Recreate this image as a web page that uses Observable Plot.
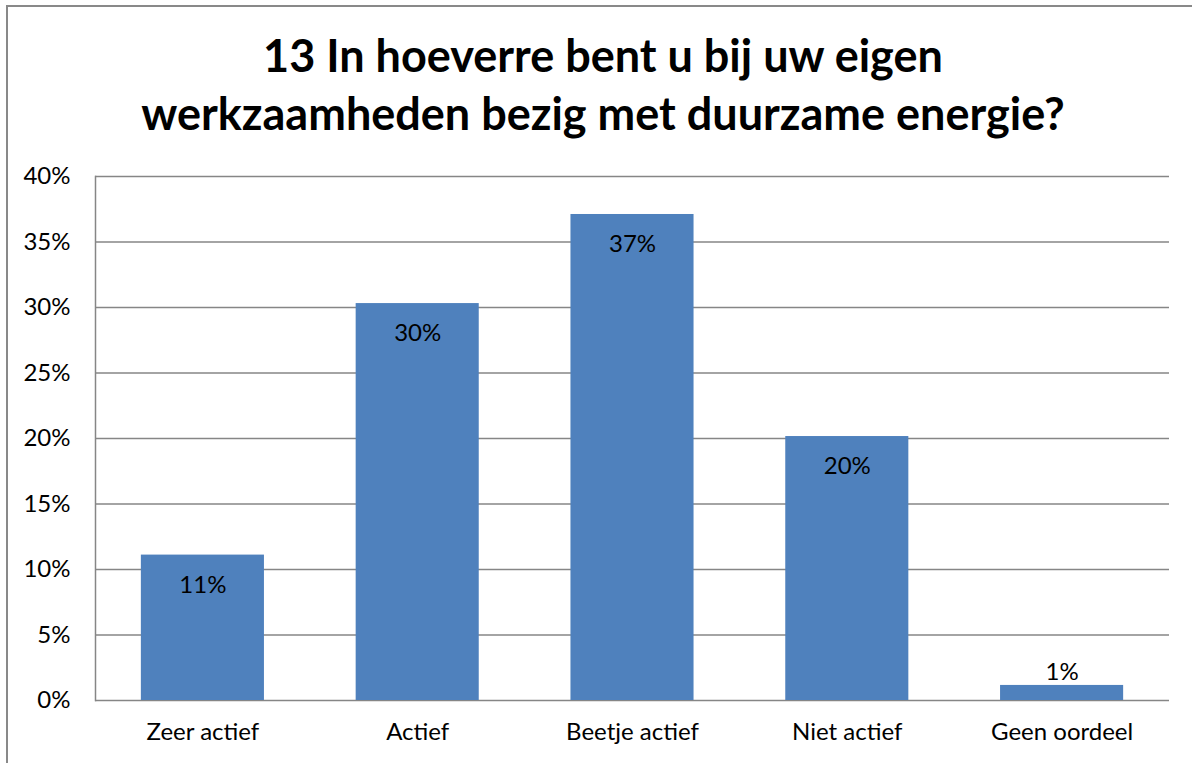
<!DOCTYPE html>
<html>
<head>
<meta charset="utf-8">
<script src="https://cdn.jsdelivr.net/npm/d3@7"></script>
<script src="https://cdn.jsdelivr.net/npm/@observablehq/plot@0.6"></script>
<style>
  html, body { margin: 0; padding: 0; width: 1192px; height: 763px; overflow: hidden; background: #fff; }
  #frame { position: absolute; left: 6px; top: 5px; width: 1220px; height: 800px; border: 2px solid #898989; box-sizing: border-box; }
  #title { position: absolute; left: 0; top: 26px; width: 1206px; text-align: center; font-family: Lato, "Open Sans", sans-serif; font-weight: bold; font-size: 45px; line-height: 58px; color: #000; }
  #chart { position: absolute; left: 0; top: 150px; }
</style>
</head>
<body>
<div id="frame"></div>
<div id="title">13 In hoeverre bent u bij uw eigen<br>werkzaamheden bezig met duurzame energie?</div>
<div id="chart"></div>
<script>
const categories = ["Zeer actief", "Actief", "Beetje actief", "Niet actief", "Geen oordeel"];
const values = [11.1, 30.3, 37.1, 20.15, 1.15];
const labels = ["11%", "30%", "37%", "20%", "1%"];
const yTicks = [0, 5, 10, 15, 20, 25, 30, 35, 40];

const data = categories.map((c, i) => ({cat: c, v: values[i], label: labels[i]}));

const chart = Plot.plot({
  width: 1192,
  height: 613,
  marginLeft: 95,
  marginRight: 23,
  marginTop: 26,
  marginBottom: 63,
  style: {fontFamily: "Lato, 'Open Sans', sans-serif", fontSize: "24px", color: "#000", background: "transparent"},
  x: {domain: categories, label: null, padding: 0.427, paddingOuter: 0.2135, round: false, tickSize: 0, tickPadding: 22},
  y: {domain: [0, 40], ticks: yTicks, tickFormat: d => d + "%", label: null, tickSize: 0, tickPadding: 25},
  marks: [
    Plot.gridY(yTicks, {stroke: "#868686", strokeOpacity: 1, strokeWidth: 1.5}),
    Plot.frame({anchor: "left", stroke: "#868686", strokeWidth: 1.5}),
    Plot.barY(data, {x: "cat", y: "v", fill: "#4F81BD"}),
    Plot.text(data.filter(d => d.v >= 5), {x: "cat", y: "v", text: "label", dy: 30, fontSize: 24, fill: "#000"}),
    Plot.text(data.filter(d => d.v < 5), {x: "cat", y: "v", text: "label", dy: -13, fontSize: 24, fill: "#000"})
  ]
});
document.getElementById("chart").appendChild(chart);
</script>
</body>
</html>
